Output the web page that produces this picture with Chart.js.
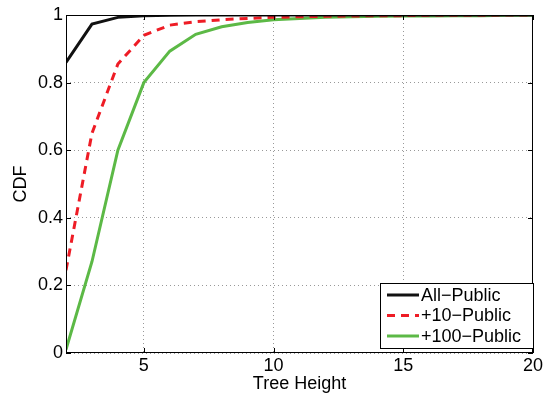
<!DOCTYPE html>
<html>
<head>
<meta charset="utf-8">
<script src="https://cdn.jsdelivr.net/npm/chart.js@4"></script>
<style>
  html, body { margin: 0; padding: 0; background: #fff; }
  #wrap { width: 545px; height: 397px; }
</style>
</head>
<body>
<div id="wrap"><canvas id="cdf"></canvas></div>
<script>
var heights = [2, 3, 4, 5, 6, 7, 8, 9, 10, 11, 12, 13, 14, 15, 16, 17, 18, 19, 20];
var allPublic = [0.86, 0.973, 0.993, 0.998, 0.999, 1, 1, 1, 1, 1, 1, 1, 1, 1, 1, 1, 1, 1, 1];
var tenPublic = [0.245, 0.65, 0.855, 0.94, 0.97, 0.98, 0.986, 0.99, 0.993, 0.995, 0.996, 0.997, 0.998, 0.998, 0.999, 0.999, 0.999, 1, 1];
var hundredPublic = [0.01, 0.27, 0.6, 0.8, 0.893, 0.943, 0.965, 0.978, 0.986, 0.99, 0.993, 0.995, 0.996, 0.997, 0.997, 0.998, 0.998, 0.999, 0.999];
var xTicks = [5, 10, 15, 20];
var yTicks = [0, 0.2, 0.4, 0.6, 0.8, 1];

const FONT = '"Liberation Sans", Arial, sans-serif';
const FS = 18;

function points(vals) {
    return heights.map((h, i) => ({ x: h, y: vals[i] }));
}

// matlab-ish box, inner ticks and legend
const matlabBox = {
    id: 'matlabBox',
    afterDatasetsDraw(chart) {
        const ctx = chart.ctx;
        const a = chart.chartArea;
        const xs = chart.scales.x, ys = chart.scales.y;
        ctx.save();
        ctx.strokeStyle = '#000';
        ctx.lineWidth = 1;
        ctx.strokeRect(a.left + 0.5, a.top + 0.5, a.right - a.left - 1, a.bottom - a.top - 1);
        ctx.beginPath();
        xTicks.forEach(v => {
            const px = Math.round(xs.getPixelForValue(v)) + 0.5;
            ctx.moveTo(px, a.bottom); ctx.lineTo(px, a.bottom - 5);
            ctx.moveTo(px, a.top); ctx.lineTo(px, a.top + 5);
        });
        yTicks.forEach(v => {
            const py = Math.round(ys.getPixelForValue(v)) + 0.5;
            ctx.moveTo(a.left, py); ctx.lineTo(a.left + 5, py);
            ctx.moveTo(a.right, py); ctx.lineTo(a.right - 5, py);
        });
        ctx.stroke();

        // legend
        const lx = 380, ly = 283, lw = 153, lh = 65;
        ctx.fillStyle = '#fff';
        ctx.fillRect(lx, ly, lw, lh);
        ctx.strokeRect(lx + 0.5, ly + 0.5, lw, lh);
        ctx.font = FS + 'px ' + FONT;
        ctx.textBaseline = 'middle';
        chart.data.datasets.forEach((ds, i) => {
            const y = ly + 12 + i * 20.5;
            ctx.strokeStyle = ds.borderColor;
            ctx.lineWidth = 3;
            ctx.setLineDash(ds.borderDash || []);
            ctx.beginPath();
            ctx.moveTo(lx + 7, y); ctx.lineTo(lx + 39, y);
            ctx.stroke();
            ctx.setLineDash([]);
            ctx.fillStyle = '#000';
            ctx.fillText(ds.label, lx + 41, y + 1);
        });
        ctx.restore();
    }
};

new Chart(document.getElementById('cdf'), {
    type: 'line',
    data: {
        datasets: [
            { label: 'All\u2212Public', data: points(allPublic), borderColor: '#111111', borderWidth: 3 },
            { label: '+10\u2212Public', data: points(tenPublic), borderColor: '#ee1c25', borderWidth: 3, borderDash: [8, 6] },
            { label: '+100\u2212Public', data: points(hundredPublic), borderColor: '#5cb946', borderWidth: 3 }
        ]
    },
    options: {
        responsive: true,
        maintainAspectRatio: false,
        animation: false,
        layout: { padding: { left: 0, right: 11, top: 15, bottom: 0 } },
        elements: { point: { radius: 0 }, line: { tension: 0 } },
        plugins: { legend: { display: false }, tooltip: { enabled: false } },
        scales: {
            x: {
                type: 'linear',
                min: 2, max: 20,
                afterBuildTicks: s => { s.ticks = xTicks.map(v => ({ value: v })); },
                afterFit: s => { s.height = 44; },
                ticks: { color: '#000', font: { family: FONT, size: FS }, padding: 2 },
                grid: { color: '#999', drawTicks: false },
                border: { display: false, dash: [1, 3] },
                title: { display: true, text: 'Tree Height', color: '#000', font: { family: FONT, size: FS }, padding: { top: 0, bottom: 2 } }
            },
            y: {
                min: 0, max: 1,
                afterBuildTicks: s => { s.ticks = yTicks.map(v => ({ value: v })); },
                afterFit: s => { s.width = 66; },
                ticks: { color: '#000', font: { family: FONT, size: FS }, padding: 3, callback: v => String(v) },
                grid: { color: '#999', drawTicks: false },
                border: { display: false, dash: [1, 3] },
                title: { display: true, text: 'CDF', color: '#000', font: { family: FONT, size: FS }, padding: { top: 10, bottom: 0 } }
            }
        }
    },
    plugins: [matlabBox]
});
</script>
</body>
</html>
